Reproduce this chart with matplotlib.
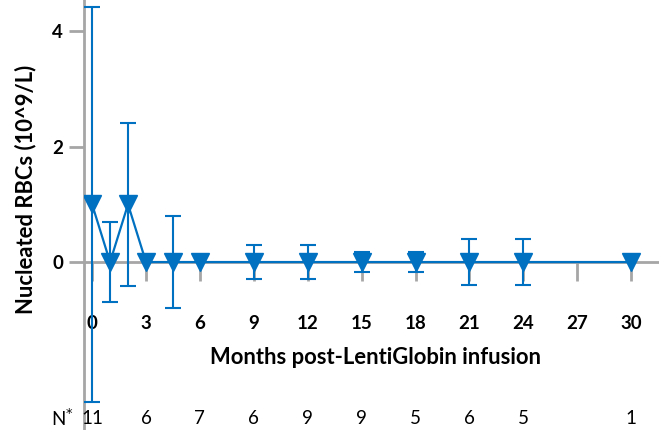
import matplotlib
matplotlib.use("Agg")
import matplotlib.pyplot as plt
import numpy as np

plt.rcParams['font.family'] = ['Lato', 'DejaVu Sans']

# data
months = [0, 1, 2, 3, 4.5, 6, 9, 12, 15, 18, 21, 24, 30]
values = [1.0, 0, 1.0, 0, 0, 0, 0, 0, 0, 0, 0, 0, 0]
errors = [3.42, 0.7, 1.41, 0, 0.8, 0, 0.29, 0.29, 0.18, 0.18, 0.4, 0.4, 0]

xticks = [0, 3, 6, 9, 12, 15, 18, 21, 24, 27, 30]
n_months = [0, 3, 6, 9, 12, 15, 18, 21, 24, 30]
n_counts = ["11", "6", "7", "6", "9", "9", "5", "6", "5", "1"]

blue = "#0070C0"
gray = "#A6A6A6"

fig = plt.figure(figsize=(6.59, 4.30), dpi=100)
ax = fig.add_axes([84 / 659, 0, 1 - 84 / 659, 1])

m = np.array(months)
v = np.array(values)
e = np.array(errors)
has_err = e > 0
ax.errorbar(m[has_err], v[has_err], yerr=e[has_err], fmt='none', ecolor=blue,
            elinewidth=1.5, capsize=6, capthick=1.5, zorder=3)
ax.plot(months, values, color=blue, lw=1.6, marker='v', markersize=13,
        markerfacecolor=blue, markeredgecolor=blue, zorder=4)

ax.set_xlim(-0.45, 31.55)
ax.set_ylim(-2.91, 4.54)

for s in ['top', 'right']:
    ax.spines[s].set_visible(False)
ax.spines['bottom'].set_position(('data', 0))
for s in ['left', 'bottom']:
    ax.spines[s].set_color(gray)
    ax.spines[s].set_linewidth(2)
    ax.spines[s].set_zorder(1)

ax.set_yticks([0, 2, 4])
ax.set_xticks(xticks)
ax.tick_params(axis='y', direction='out', length=11, width=2, color=gray,
               pad=4, labelsize=13.5)
ax.tick_params(axis='x', direction='out', length=14, width=2, color=gray,
               pad=24, labelsize=13.5)
for lab in ax.get_xticklabels() + ax.get_yticklabels():
    lab.set_fontweight('bold')

ax.set_ylabel("Nucleated RBCs (10^9/L)", fontsize=15.8, fontweight='bold')
ax.yaxis.set_label_coords(-0.082, 0.56)
fig.text(376 / 659, 1 - 357 / 430, "Months post-LentiGlobin infusion",
         fontsize=15.8, fontweight='bold', ha='center', va='center')

# N row
trans = ax.get_xaxis_transform()
for mo, n in zip(n_months, n_counts):
    ax.text(mo, 1 - 418 / 430, n, transform=trans, ha='center', va='center',
            fontsize=13.5, clip_on=False)
fig.text(62 / 659, 1 - 418 / 430, r"N$^{*}$", ha='center', va='center', fontsize=13.5)

fig.savefig("out.png", dpi=100)
